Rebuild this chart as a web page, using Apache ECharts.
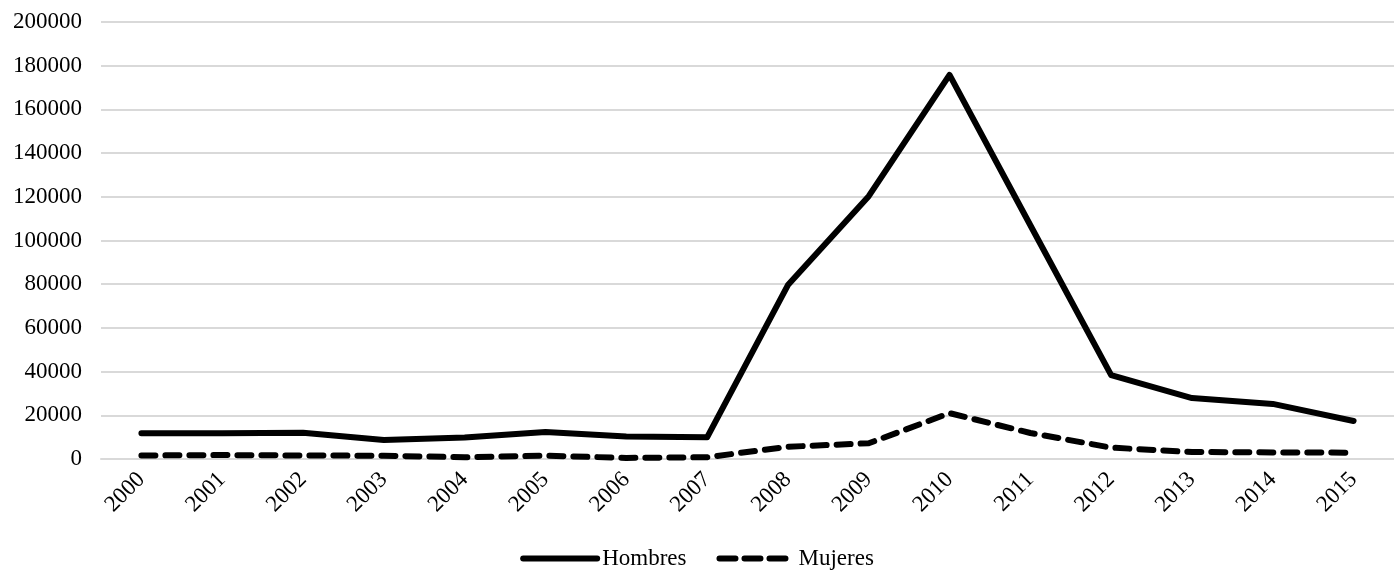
<!DOCTYPE html>
<html>
<head>
<meta charset="utf-8">
<script src="https://cdn.jsdelivr.net/npm/echarts@6/dist/echarts.min.js"></script>
<style>
  html, body { margin: 0; padding: 0; background: #fff; }
  #chart { width: 1394px; height: 577px; }
</style>
</head>
<body>
<div id="chart"></div>
<script>
const years = ['2000', '2001', '2002', '2003', '2004', '2005', '2006', '2007',
  '2008', '2009', '2010', '2011', '2012', '2013', '2014', '2015'];
const hombres = [11800, 11800, 12000, 8700, 9800, 12400, 10300, 9900,
  79600, 120300, 175800, 107000, 38400, 27900, 25200, 17400];
const mujeres = [1600, 1800, 1600, 1500, 800, 1500, 500, 800,
  5600, 7200, 21000, 11900, 5200, 3200, 3000, 2900];

const font = '"Liberation Serif", "Times New Roman", serif';

const myChart = echarts.init(document.getElementById('chart'));

const options = {
  animation: false,
  textStyle: { fontFamily: font },
  grid: { left: 101, right: -10, top: 22, bottom: 118 },
  legend: {
    bottom: 2,
    left: 'center',
    itemWidth: 74,
    itemHeight: 12,
    itemGap: 30,
    itemStyle: { opacity: 0 },
    textStyle: { fontFamily: font, fontSize: 23, color: '#000' },
    data: [
      { name: 'Hombres', lineStyle: { width: 6, cap: 'round' } },
      { name: 'Mujeres', lineStyle: { width: 6, type: [16, 9], cap: 'round' } }
    ]
  },
  xAxis: {
    type: 'category',
    data: years,
    boundaryGap: true,
    axisLine: { lineStyle: { color: '#d9d9d9', width: 2 } },
    axisTick: { show: false },
    axisLabel: {
      rotate: 45,
      margin: 17,
      fontFamily: font,
      fontSize: 23,
      color: '#000'
    }
  },
  yAxis: {
    type: 'value',
    min: 0,
    max: 200000,
    interval: 20000,
    axisLine: { show: false },
    axisTick: { show: false },
    splitLine: { lineStyle: { color: '#d9d9d9', width: 2 } },
    axisLabel: {
      margin: 19,
      fontFamily: font,
      fontSize: 23,
      color: '#000',
      formatter: v => String(v)
    }
  },
  series: [
    {
      name: 'Hombres',
      type: 'line',
      data: hombres,
      symbol: 'none',
      itemStyle: { color: '#000' },
      lineStyle: { color: '#000', width: 6, cap: 'round', join: 'round' }
    },
    {
      name: 'Mujeres',
      type: 'line',
      data: mujeres,
      symbol: 'none',
      itemStyle: { color: '#000' },
      lineStyle: { color: '#000', width: 6, type: [14, 10], cap: 'round', join: 'round' }
    }
  ]
};

myChart.setOption(options);
</script>
</body>
</html>
